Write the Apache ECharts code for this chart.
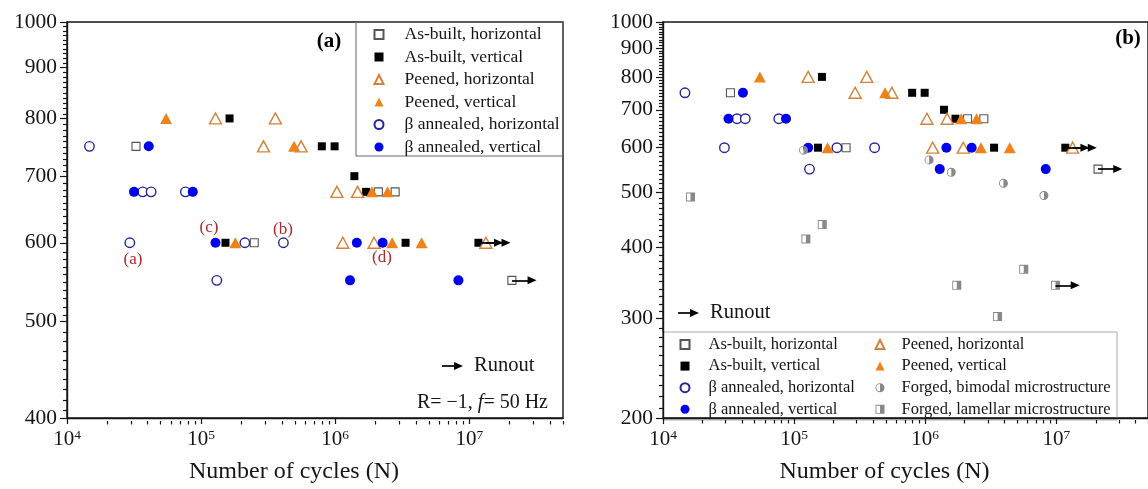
<!DOCTYPE html>
<html>
<head>
<meta charset="utf-8">
<script src="https://cdn.jsdelivr.net/npm/echarts@6/dist/echarts.min.js"></script>
<style>
  html, body { margin: 0; padding: 0; background: #fff; }
  #chart { width: 1148px; height: 489px; }
</style>
</head>
<body>
<div id="chart"></div>
<script>
// S–N data: [cycles to failure, stress amplitude (MPa)]
const asBuiltHorizontal = [[3.27e4, 750], [2.49e5, 600], [2.1e6, 675], [2.8e6, 675], [2.08e7, 550]];
const asBuiltVertical = [[1.63e5, 800], [7.95e5, 750], [9.9e5, 750], [1.39e6, 700], [1.70e6, 675], [1.52e5, 600], [3.35e6, 600], [1.17e7, 600]];
const peenedHorizontal = [[1.28e5, 800], [3.58e5, 800], [2.92e5, 750], [5.57e5, 750], [1.03e6, 675], [1.47e6, 675], [1.14e6, 600], [1.95e6, 600], [1.33e7, 600]];
const peenedVertical = [[5.48e4, 800], [4.94e5, 750], [1.88e6, 675], [2.46e6, 675], [1.8e5, 600], [2.66e6, 600], [4.41e6, 600]];
const betaHorizontal = [[1.47e4, 750], [3.67e4, 675], [4.24e4, 675], [7.64e4, 675], [2.94e4, 600], [2.12e5, 600], [4.11e5, 600], [1.31e5, 550]];
const betaVertical = [[4.07e4, 750], [3.16e4, 675], [8.67e4, 675], [1.28e5, 600], [1.45e6, 600], [2.26e6, 600], [1.29e6, 550], [8.3e6, 550]];
const forgedBimodal = [[1.18e5, 594], [1.07e6, 571], [1.58e6, 543], [3.95e6, 519], [8.04e6, 494]];
const forgedLamellar = [[1.62e4, 491], [1.23e5, 414], [1.64e5, 439], [1.74e6, 343], [3.56e6, 302], [5.64e6, 366], [9.85e6, 343]];

// specimens that did not fail (runouts)
const runoutsAM = [[1.17e7, 600], [1.33e7, 600], [2.08e7, 550]];
const runoutsForged = [[9.85e6, 343]];

// axis ranges and tick labels
const xRange = [1e4, 5e7];
const xTickLabels = [1e4, 1e5, 1e6, 1e7];
const yRangeA = [400, 1000];
const yRangeB = [200, 1000];
const yTickLabelsA = [400, 500, 600, 700, 800, 900, 1000];
const yTickLabelsB = [200, 300, 400, 500, 600, 700, 800, 900, 1000];

const FONT = '"Liberation Serif", "Times New Roman", serif';
const INK = '#151515';
const L = Math.log10;
const toLog = pts => pts.map(([n, s]) => [L(n), L(s)]);

// minor ticks: 2..9 x 10^k along x, every 10 MPa along y
function minorX(lo, hi) {
  const out = [];
  for (let e = Math.floor(L(lo)); e <= Math.ceil(L(hi)); e++)
    for (let k = 2; k <= 9; k++) { const v = k * Math.pow(10, e); if (v >= lo && v <= hi) out.push(L(v)); }
  return out;
}
function minorY(lo, hi) {
  const out = [];
  for (let v = lo + 10; v < hi; v += 10) if (v % 100 !== 0) out.push(L(v));
  return out;
}

// half-filled symbols (outline ring + right half solid)
const HALF_CIRCLE = 'path://M10 0A10 10 0 1 1 10 20A10 10 0 1 1 10 0Z' +
  'M10 2A8 8 0 1 0 10 18A8 8 0 1 0 10 2Z' +
  'M10 2A8 8 0 0 1 10 18Z';
const HALF_SQUARE = 'path://M0 0L20 0L20 20L0 20Z' +
  'M2 2L2 18L18 18L18 2Z' +
  'M10 2L18 2L18 18L10 18Z';

const groups = [
  { name: 'As-built, horizontal', data: asBuiltHorizontal, symbol: 'rect', size: 8,
    itemStyle: { color: '#fff', borderColor: '#555', borderWidth: 1.1 } },
  { name: 'As-built, vertical', data: asBuiltVertical, symbol: 'rect', size: 8,
    itemStyle: { color: '#000' } },
  { name: 'Peened, horizontal', data: peenedHorizontal, symbol: 'triangle', size: [12, 11],
    itemStyle: { color: '#fff', borderColor: '#d3823a', borderWidth: 1.4 } },
  { name: 'Peened, vertical', data: peenedVertical, symbol: 'triangle', size: [12, 11],
    itemStyle: { color: '#f0821a' } },
  { name: 'β annealed, horizontal', data: betaHorizontal, symbol: 'circle', size: 9.5,
    itemStyle: { color: '#fff', borderColor: '#26269c', borderWidth: 1.4 } },
  { name: 'β annealed, vertical', data: betaVertical, symbol: 'circle', size: 10,
    itemStyle: { color: '#0000f0' } },
  { name: 'Forged, bimodal microstructure', data: forgedBimodal, symbol: HALF_CIRCLE, size: 9,
    itemStyle: { color: '#888' }, forgedOnly: true },
  { name: 'Forged, lamellar microstructure', data: forgedLamellar, symbol: HALF_SQUARE, size: 9,
    itemStyle: { color: '#888' }, forgedOnly: true }
];

const axisLine = { show: true, lineStyle: { color: INK, width: 1.4 } };
const tickStyle = { color: INK, width: 1.2 };

function xAxes(grid) {
  return [
    { gridIndex: grid, type: 'value', min: L(xRange[0]), max: L(xRange[1]),
      axisLine, splitLine: { show: false },
      axisTick: { show: true, customValues: xTickLabels.map(L), length: 6, lineStyle: tickStyle },
      axisLabel: { customValues: xTickLabels.map(L), margin: 10,
        formatter: v => '{b|10}{s|' + Math.round(v) + '}',
        rich: {
          b: { fontFamily: FONT, fontSize: 21, color: INK, lineHeight: 22, verticalAlign: 'bottom' },
          s: { fontFamily: FONT, fontSize: 13.5, color: INK, lineHeight: 13, verticalAlign: 'top' }
        } },
      name: 'Number of cycles (N)', nameLocation: 'middle', nameGap: 42,
      nameTextStyle: { fontFamily: FONT, fontSize: 24, color: INK, padding: [0, 42, 0, 0] } },
    { gridIndex: grid + 1, type: 'value', min: L(xRange[0]), max: L(xRange[1]),
      axisLine: { show: false }, splitLine: { show: false }, axisLabel: { show: false },
      axisTick: { show: true, customValues: minorX(xRange[0], xRange[1]), length: 3.5, lineStyle: tickStyle } }
  ];
}
function yAxes(grid, range, labels) {
  return [
    { gridIndex: grid, type: 'value', min: L(range[0]), max: L(range[1]),
      axisLine, splitLine: { show: false },
      axisTick: { show: true, customValues: labels.map(L), length: 7, lineStyle: tickStyle },
      axisLabel: { customValues: labels.map(L), margin: 10, fontFamily: FONT, fontSize: 21.5, color: INK,
        formatter: v => String(Math.round(Math.pow(10, v))) } },
    { gridIndex: grid + 1, type: 'value', min: L(range[0]), max: L(range[1]),
      axisLine: { show: false }, splitLine: { show: false }, axisLabel: { show: false },
      axisTick: { show: true, customValues: minorY(range[0], range[1]), length: 4, lineStyle: tickStyle } }
  ];
}

function scatterSeries(axisIndex, withForged) {
  return groups.filter(g => withForged || !g.forgedOnly).map(g => ({
    type: 'scatter', name: g.name, xAxisIndex: axisIndex, yAxisIndex: axisIndex,
    symbol: g.symbol, symbolSize: g.size, itemStyle: Object.assign({ opacity: 1 }, g.itemStyle),
    data: toLog(g.data), silent: true
  }));
}
function runoutSeries(axisIndex, pts) {
  const span = 0.15; // arrow length in decades
  return {
    type: 'scatter', name: 'runout', xAxisIndex: axisIndex, yAxisIndex: axisIndex, data: [], z: 1,
    markLine: {
      silent: true, symbol: ['none', 'triangle'], symbolSize: [8, 9], precision: 6,
      label: { show: false }, lineStyle: { color: '#000', width: 1.7, type: 'solid', opacity: 1 },
      itemStyle: { color: '#000', opacity: 1 },
      emphasis: { disabled: true },
      data: toLog(pts).map(([x, y]) => [{ coord: [x, y] }, { coord: [x + span, y] }])
    }
  };
}

function legend(left, top, names, fontSize, gap, textPad) {
  return {
    orient: 'vertical', left, top, padding: 0, itemGap: gap, itemWidth: 9, itemHeight: 9,
    selectedMode: false, data: names, itemStyle: { opacity: 1 },
    textStyle: { fontFamily: FONT, fontSize, color: INK, padding: [0, 0, 0, textPad] }
  };
}

function runoutKey(x, y) {
  return [
    { type: 'line', shape: { x1: x, y1: y, x2: x + 14, y2: y }, style: { stroke: '#000', lineWidth: 1.7 } },
    { type: 'polygon', shape: { points: [[x + 12, y - 4], [x + 21, y], [x + 12, y + 4]] }, style: { fill: '#000' } },
    { type: 'text', style: { text: 'Runout', x: x + 32, y, verticalAlign: 'middle', align: 'left',
      fontFamily: FONT, fontSize: 20.5, fill: INK } }
  ];
}
function note(text, x, y) {
  return { type: 'text', style: { text, x, y, align: 'center', verticalAlign: 'middle',
    fontFamily: FONT, fontSize: 17, fill: '#b2282b' } };
}

const names = groups.map(g => g.name);
const chart = echarts.init(document.getElementById('chart'), null, { renderer: 'canvas' });
chart.setOption({
  backgroundColor: '#fff',
  animation: false,
  grid: [
    { left: 67, top: 22, width: 496, height: 399, show: true, borderColor: INK, borderWidth: 1.4, backgroundColor: 'transparent' },
    { left: 67, top: 22, width: 496, height: 399 },
    { left: 663, top: 22, width: 496, height: 398, show: true, borderColor: INK, borderWidth: 1.4, backgroundColor: 'transparent' },
    { left: 663, top: 22, width: 496, height: 398 }
  ],
  xAxis: [...xAxes(0), ...xAxes(2)],
  yAxis: [...yAxes(0, yRangeA, yTickLabelsA), ...yAxes(2, yRangeB, yTickLabelsB)],
  legend: [
    legend(373.5, 25.5, names.slice(0, 6), 17.5, 4.5, 16),
    legend(679.5, 336, [names[0], names[1], names[4], names[5]], 16.5, 4.6, 14),
    legend(874.5, 336, [names[2], names[3], names[6], names[7]], 16.5, 4.6, 12)
  ],
  graphic: [
    { type: 'rect', shape: { x: 356, y: 22, width: 207, height: 134 }, style: { fill: 'none', stroke: '#666', lineWidth: 1 } },
    { type: 'rect', shape: { x: 663, y: 332, width: 454, height: 88 }, style: { fill: 'none', stroke: '#aaa', lineWidth: 1 } },
    { type: 'text', style: { text: '(a)', x: 329, y: 42, align: 'center', verticalAlign: 'middle',
      fontFamily: FONT, fontWeight: 'bold', fontSize: 21, fill: '#000' } },
    { type: 'text', style: { text: '(b)', x: 1128, y: 39, align: 'center', verticalAlign: 'middle',
      fontFamily: FONT, fontWeight: 'bold', fontSize: 21, fill: '#000' } },
    note('(a)', 133, 260), note('(c)', 209, 228), note('(b)', 283, 230), note('(d)', 382, 258),
    ...runoutKey(442, 366),
    ...runoutKey(678, 313),
    { type: 'text', style: {
      text: '{n|R= \u22121, }{i|f}{n|= 50 Hz}', x: 548, y: 403, align: 'right', verticalAlign: 'middle',
      rich: {
        n: { fontFamily: FONT, fontSize: 20, fill: INK, color: INK },
        i: { fontFamily: FONT, fontSize: 20, fontStyle: 'italic', fill: INK, color: INK }
      } } }
  ],
  series: [
    runoutSeries(0, runoutsAM),
    ...scatterSeries(0, false),
    runoutSeries(2, runoutsAM.concat(runoutsForged)),
    ...scatterSeries(2, true)
  ]
});
</script>
</body>
</html>
